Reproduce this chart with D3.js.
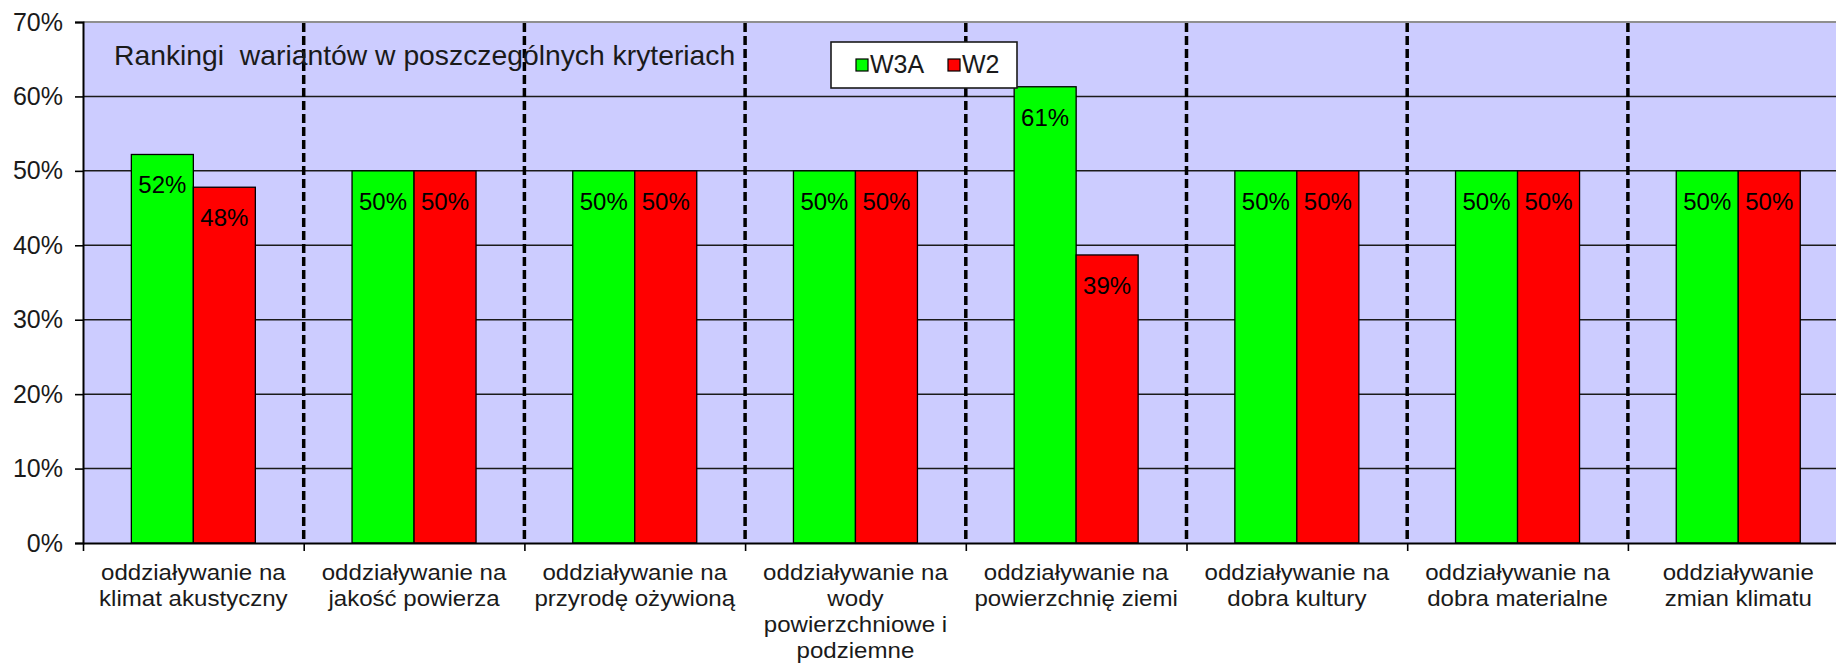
<!DOCTYPE html>
<html>
<head>
<meta charset="utf-8">
<script src="https://cdn.jsdelivr.net/npm/d3@7"></script>
<style>
  html, body { margin: 0; padding: 0; background: #ffffff; }
  svg { display: block; }
  text { font-family: "Liberation Sans", Arial, sans-serif; }
</style>
</head>
<body>
<svg id="chart" width="1836" height="663"></svg>
<script>
// Criteria (line breaks mark how each axis label wraps)
const categories = [
  "oddziaływanie na\nklimat akustyczny",
  "oddziaływanie na\njakość powierza",
  "oddziaływanie na\nprzyrodę ożywioną",
  "oddziaływanie na\nwody\npowierzchniowe i\npodziemne",
  "oddziaływanie na\npowierzchnię ziemi",
  "oddziaływanie na\ndobra kultury",
  "oddziaływanie na\ndobra materialne",
  "oddziaływanie\nzmian klimatu"
];
const seriesNames = ["W3A", "W2"];
const seriesColors = ["#00ff00", "#ff0000"];
const w3aValues = [0.522, 0.50, 0.50, 0.50, 0.613, 0.50, 0.50, 0.50];
const w2Values  = [0.478, 0.50, 0.50, 0.50, 0.387, 0.50, 0.50, 0.50];
const yTicks = [0, 0.1, 0.2, 0.3, 0.4, 0.5, 0.6, 0.7];
const titleText = "Rankingi  wariantów w poszczególnych kryteriach";

const svg = d3.select("#chart");
const pct = d3.format(".0%");

// Plot area (extends past the right edge of the page)
const plotLeft = 83, plotTop = 22, plotBottom = 543, bandW = 220.7;
const plotRight = plotLeft + bandW * categories.length;

const x = d3.scaleBand().domain(d3.range(categories.length)).range([plotLeft, plotRight]).paddingInner(0).paddingOuter(0);
const xEdge = d3.scaleLinear().domain([0, categories.length]).range([plotLeft, plotRight]);
const innerPad = 48.35;
const x1 = d3.scaleBand().domain(seriesNames).range([innerPad, x.bandwidth() - innerPad]).padding(0);
const y = d3.scaleLinear().domain([0, 0.7]).range([plotBottom, plotTop]);

const rows = categories.map((c, i) => ({ i, lines: c.split("\n"), values: [w3aValues[i], w2Values[i]] }));

// background
svg.append("rect")
  .attr("x", plotLeft).attr("y", plotTop)
  .attr("width", plotRight - plotLeft).attr("height", plotBottom - plotTop)
  .attr("fill", "#ccccff");

// horizontal gridlines
svg.append("g").selectAll("line")
  .data(yTicks.filter(t => t > 0 && t < 0.7))
  .join("line")
  .attr("x1", plotLeft).attr("x2", plotRight)
  .attr("y1", d => y(d)).attr("y2", d => y(d))
  .attr("stroke", "#1a1a1a").attr("stroke-width", 1.5);

// top border of plot area
svg.append("line")
  .attr("x1", plotLeft).attr("x2", plotRight)
  .attr("y1", y(0.7)).attr("y2", y(0.7))
  .attr("stroke", "#8f8f8f").attr("stroke-width", 2);

// dashed separators between criteria
svg.append("g").selectAll("line")
  .data(d3.range(1, categories.length + 1))
  .join("line")
  .attr("x1", d => xEdge(d)).attr("x2", d => xEdge(d))
  .attr("y1", y(0.7) + 1).attr("y2", y(0) - 3)
  .attr("stroke", "#000").attr("stroke-width", 3.5)
  .attr("stroke-dasharray", "9,4");

// bars
const groups = svg.append("g").selectAll("g")
  .data(rows)
  .join("g")
  .attr("transform", d => `translate(${x(d.i)},0)`);

groups.selectAll("rect")
  .data(d => d.values.map((v, k) => ({ v, k })))
  .join("rect")
  .attr("x", d => x1(seriesNames[d.k]))
  .attr("y", d => y(d.v))
  .attr("width", x1.bandwidth())
  .attr("height", d => y(0) - y(d.v))
  .attr("fill", d => seriesColors[d.k])
  .attr("stroke", "#000").attr("stroke-width", 1.3);

groups.selectAll("text")
  .data(d => d.values.map((v, k) => ({ v, k })))
  .join("text")
  .attr("x", d => x1(seriesNames[d.k]) + x1.bandwidth() / 2)
  .attr("y", d => y(d.v) + 39)
  .attr("text-anchor", "middle")
  .attr("font-size", 24)
  .attr("fill", "#000")
  .text(d => pct(d.v));

// y axis
const yAxis = svg.append("g")
  .attr("transform", `translate(${plotLeft},0)`)
  .call(d3.axisLeft(y).tickValues(yTicks).tickFormat(pct).tickSize(8).tickPadding(12));
yAxis.select(".domain").attr("stroke", "#000").attr("stroke-width", 2);
yAxis.selectAll(".tick line").attr("stroke", "#000").attr("stroke-width", 1.6);
yAxis.selectAll(".tick text")
  .attr("font-family", "'Liberation Sans', Arial, sans-serif")
  .attr("font-size", 25).attr("fill", "#1a1a1a");

// x axis with ticks on criterion boundaries
const xAxis = svg.append("g")
  .attr("transform", `translate(0,${plotBottom})`)
  .call(d3.axisBottom(xEdge).tickValues(d3.range(categories.length + 1)).tickFormat("").tickSize(8).tickSizeOuter(0));
xAxis.select(".domain").attr("stroke", "#000").attr("stroke-width", 2);
xAxis.selectAll(".tick line").attr("stroke", "#000").attr("stroke-width", 1.6);

// criterion labels
const labels = svg.append("g").selectAll("text")
  .data(rows)
  .join("text")
  .attr("transform", d => `translate(${x(d.i) + x.bandwidth() / 2},580) scale(1.07,1)`)
  .attr("text-anchor", "middle")
  .attr("font-family", "Roboto, 'Liberation Sans', sans-serif")
  .attr("font-size", 22.5)
  .attr("fill", "#1a1a1a");
labels.selectAll("tspan")
  .data(d => d.lines)
  .join("tspan")
  .attr("x", 0)
  .attr("dy", (d, k) => k === 0 ? 0 : 26)
  .text(d => d);

// chart title inside the plot
svg.append("text")
  .attr("x", 114).attr("y", 65)
  .attr("font-size", 28.3)
  .attr("fill", "#1a1a1a")
  .style("white-space", "pre")
  .attr("xml:space", "preserve")
  .text(titleText);

// legend
const legend = svg.append("g");
legend.append("rect")
  .attr("x", 831).attr("y", 42).attr("width", 186).attr("height", 46)
  .attr("fill", "#fff").attr("stroke", "#1a1a1a").attr("stroke-width", 1.6);
const legendX = [856, 948];
const items = legend.selectAll("g.item")
  .data(seriesNames)
  .join("g").attr("class", "item")
  .attr("transform", (d, k) => `translate(${legendX[k]},0)`);
items.append("rect")
  .attr("x", 0).attr("y", 59).attr("width", 12).attr("height", 12)
  .attr("fill", (d, k) => seriesColors[k])
  .attr("stroke", "#000").attr("stroke-width", 1.2);
items.append("text")
  .attr("x", 14).attr("y", 72.5)
  .attr("font-size", 25)
  .attr("fill", "#1a1a1a")
  .text(d => d);
</script>
</body>
</html>
